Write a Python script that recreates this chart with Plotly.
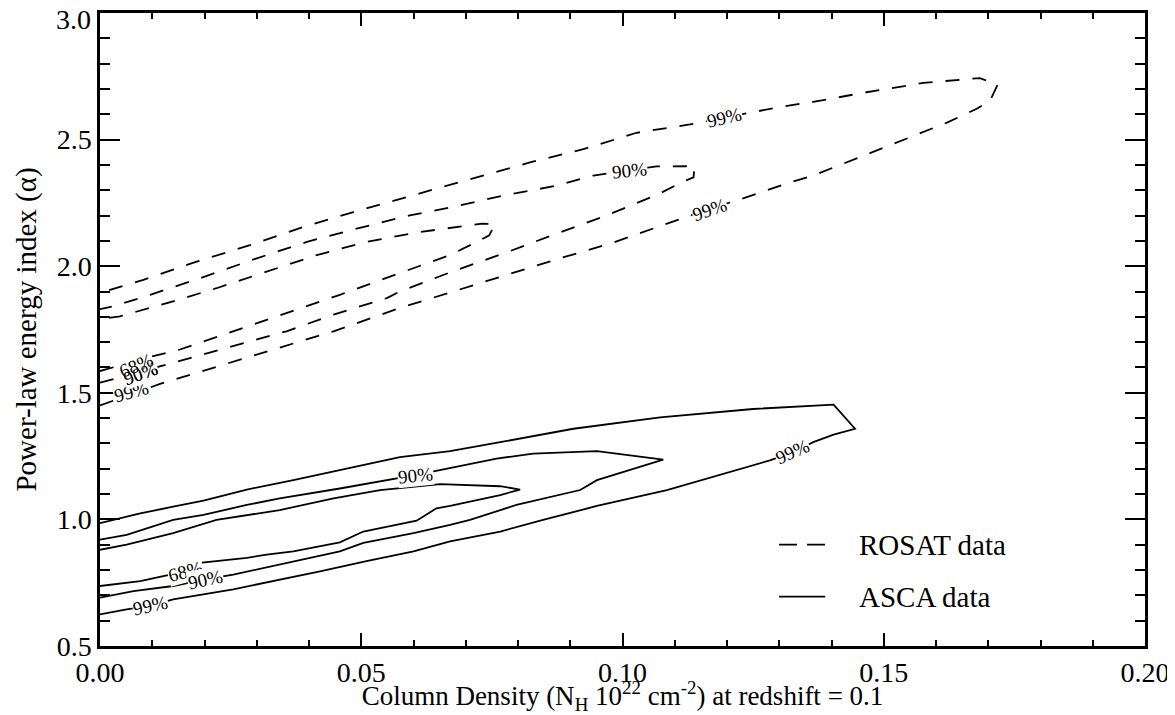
import plotly.graph_objects as go

# ---------------- data ----------------
# ROSAT confidence contours (dashed): lower branch, round the tip, back along the upper branch
rosat99_x = [0.0, 0.0115, 0.0447, 0.0536, 0.0574, 0.0676, 0.0778, 0.0880, 0.0976, 0.1078, 0.1167, 0.1219, 0.1321,
             0.1365, 0.1461, 0.1557, 0.1621, 0.1678, 0.1703, 0.1718,
             0.1684, 0.1576, 0.1467, 0.1365, 0.1301, 0.1244, 0.1129, 0.1027, 0.0925, 0.0823, 0.0721, 0.0622,
             0.0587, 0.0485, 0.0389, 0.0287, 0.0185, 0.0083, 0.0]
rosat99_y = [1.45, 1.535, 1.743, 1.809, 1.835, 1.900, 1.965, 2.031, 2.089, 2.162, 2.227, 2.260, 2.331,
             2.358, 2.436, 2.515, 2.567, 2.622, 2.652, 2.717,
             2.743, 2.724, 2.687, 2.649, 2.629, 2.606, 2.560, 2.527, 2.462, 2.410, 2.351, 2.292,
             2.273, 2.214, 2.155, 2.083, 2.018, 1.946, 1.895]

rosat90_x = [0.0, 0.0118, 0.0357, 0.0447, 0.0549, 0.0574, 0.0673, 0.0772, 0.0874, 0.0970, 0.1069, 0.1113, 0.1136,
             0.1138, 0.1065, 0.0944, 0.0874, 0.0772, 0.0673, 0.0593, 0.0491, 0.0396, 0.0300, 0.0191, 0.0096,
             0.0025, 0.0]
rosat90_y = [1.54, 1.606, 1.743, 1.809, 1.874, 1.900, 1.978, 2.050, 2.129, 2.201, 2.285, 2.331, 2.351,
             2.395, 2.394, 2.358, 2.318, 2.279, 2.233, 2.201, 2.148, 2.096, 2.031, 1.952, 1.887,
             1.841, 1.83]

rosat68_x = [0.0, 0.0102, 0.0153, 0.0255, 0.0357, 0.0459, 0.0555, 0.0612, 0.0670, 0.0721, 0.0745, 0.0756,
             0.0731, 0.0612, 0.0510, 0.0415, 0.0319, 0.0223, 0.0128, 0.0038, 0.0]
rosat68_y = [1.586, 1.645, 1.671, 1.743, 1.815, 1.887, 1.959, 2.000, 2.044, 2.096, 2.122, 2.166,
             2.168, 2.135, 2.096, 2.044, 1.978, 1.913, 1.854, 1.802, 1.79]

# ASCA confidence contours (solid)
asca99_x = [0.0, 0.0051, 0.0096, 0.0140, 0.0255, 0.0332, 0.0421, 0.0510, 0.0600, 0.0670, 0.0766, 0.0848, 0.0951,
            0.1085, 0.1282, 0.1327, 0.1365, 0.1404, 0.1445,
            0.1404, 0.1250, 0.1072, 0.0906, 0.0766, 0.0670, 0.0574, 0.0504, 0.0447, 0.0370, 0.0281, 0.0198,
            0.0140, 0.0077, 0.0]
asca99_y = [0.625, 0.645, 0.658, 0.684, 0.724, 0.756, 0.795, 0.835, 0.874, 0.913, 0.952, 0.998, 1.053,
            1.116, 1.233, 1.266, 1.305, 1.335, 1.358,
            1.453, 1.436, 1.403, 1.358, 1.305, 1.270, 1.246, 1.214, 1.190, 1.155, 1.118, 1.074,
            1.050, 1.024, 0.985]

asca90_x = [0.0, 0.0064, 0.0140, 0.0201, 0.0255, 0.0370, 0.0459, 0.0504, 0.0600, 0.0670, 0.0708, 0.0797,
            0.0919, 0.0951, 0.1078,
            0.0951, 0.0829, 0.0759, 0.0651, 0.0603, 0.0459, 0.0383, 0.0344, 0.0281, 0.0198, 0.0140,
            0.0051, 0.0]
asca90_y = [0.691, 0.717, 0.737, 0.763, 0.782, 0.835, 0.874, 0.907, 0.946, 0.978, 0.998, 1.057,
            1.116, 1.155, 1.236,
            1.270, 1.260, 1.240, 1.194, 1.175, 1.122, 1.096, 1.083, 1.057, 1.018, 0.998,
            0.939, 0.920]

asca68_x = [0.0, 0.0077, 0.0163, 0.0191, 0.0281, 0.0319, 0.0370, 0.0459, 0.0504, 0.0606, 0.0644, 0.0670,
            0.0766, 0.0804,
            0.0766, 0.0651, 0.0536, 0.0447, 0.0344, 0.0223, 0.0140, 0.0051, 0.0]
asca68_y = [0.737, 0.756, 0.795, 0.828, 0.848, 0.861, 0.874, 0.909, 0.952, 0.995, 1.044, 1.053,
            1.096, 1.118,
            1.131, 1.139, 1.116, 1.083, 1.037, 0.998, 0.946, 0.900, 0.880]

# contour labels: text, x, y, angle
label_text = ["99%", "90%", "99%", "99%", "90%", "68%", "90%", "99%", "68%", "90%", "99%"]
label_x = [0.1196, 0.1014, 0.1167, 0.0061, 0.0077, 0.0069, 0.0603, 0.1326, 0.0163, 0.0201, 0.0096]
label_y = [2.586, 2.378, 2.225, 1.504, 1.578, 1.606, 1.175, 1.268, 0.795, 0.763, 0.658]
label_angle = [-13, -6, -19, -15, -20, -22, -6, -24, -15, -12, -12]

legend_names = ["ROSAT data", "ASCA data"]

x_tick_vals = [0.0, 0.05, 0.10, 0.15, 0.20]
y_tick_vals = [0.5, 1.0, 1.5, 2.0, 2.5]
y_top_label = "3.0"

FONT = "Liberation Serif, Times New Roman, serif"
BIG = 28
TITLE = 27
SMALL = 19

fig = go.Figure()

for xs, ys in [(rosat99_x, rosat99_y), (rosat90_x, rosat90_y), (rosat68_x, rosat68_y)]:
    fig.add_trace(go.Scatter(x=xs, y=ys, mode="lines", showlegend=False, hoverinfo="skip",
                             line=dict(color="black", width=1.8, dash="14px,13px")))
for xs, ys in [(asca99_x, asca99_y), (asca90_x, asca90_y), (asca68_x, asca68_y)]:
    fig.add_trace(go.Scatter(x=xs, y=ys, mode="lines", showlegend=False, hoverinfo="skip",
                             line=dict(color="black", width=1.8)))

for t, x, y, a in zip(label_text, label_x, label_y, label_angle):
    fig.add_annotation(x=x, y=y, xref="x", yref="y", text=t, showarrow=False, textangle=a,
                       font=dict(family=FONT, size=SMALL, color="black"),
                       bgcolor="white", borderpad=0)
# the overlapping ROSAT 68%/90% labels at the left: redraw the 90% glyphs so both stay readable
fig.add_annotation(x=label_x[4], y=label_y[4], xref="x", yref="y", text=label_text[4], showarrow=False,
                   textangle=label_angle[4], font=dict(family=FONT, size=SMALL, color="black"), borderpad=0)

# top y tick label, kept inside the page as in the reference
fig.add_annotation(x=0, y=3.0, xref="paper", yref="y", text=y_top_label, showarrow=False,
                   xanchor="right", yanchor="top", xshift=-7, yshift=11,
                   font=dict(family=FONT, size=BIG, color="black"))

# legend drawn by hand (sample line + text)
legend_y = [0.160, 0.078]
legend_dash = ["18px,10px", "solid"]
for name, ly, dsh in zip(legend_names, legend_y, legend_dash):
    fig.add_shape(type="line", xref="paper", yref="paper", x0=0.6498, x1=0.694, y0=ly, y1=ly,
                  line=dict(color="black", width=1.8, dash=dsh))
    fig.add_annotation(xref="paper", yref="paper", x=0.7244, y=ly, text=name, showarrow=False,
                       xanchor="left", yanchor="middle", font=dict(family=FONT, size=29, color="black"))

axis_common = dict(showline=True, linewidth=2.5, linecolor="black", mirror="ticks", ticks="inside",
                   tickwidth=2, tickcolor="black", showgrid=False, zeroline=False,
                   tickfont=dict(family=FONT, size=BIG, color="black"))

fig.update_xaxes(range=[0, 0.2], tickvals=x_tick_vals, tickformat=".2f", ticklen=13,
                 ticklabeloverflow="allow",
                 minor=dict(dtick=0.01, ticklen=6, tickwidth=2, tickcolor="black", ticks="inside"),
                 title=dict(text="Column Density (N<sub>H</sub> 10<sup>22</sup> cm<sup>-2</sup>) at redshift = 0.1",
                            font=dict(family=FONT, size=TITLE, color="black"), standoff=6),
                 **axis_common)
fig.update_yaxes(range=[0.5, 3.0], tickvals=y_tick_vals, tickformat=".1f", ticklen=20,
                 minor=dict(dtick=0.1, ticklen=10, tickwidth=2, tickcolor="black", ticks="inside"),
                 title=dict(text="Power-law energy index (α)",
                            font=dict(family=FONT, size=29, color="black"), standoff=12),
                 **axis_common)

# the page adds an 8px body margin: size and margins compensate so the plot frame lands where the reference has it
fig.update_layout(width=1167, height=707, margin=dict(l=92, r=30, t=2, b=68),
                  paper_bgcolor="white", plot_bgcolor="white", showlegend=False)

fig.write_html("out.html")
